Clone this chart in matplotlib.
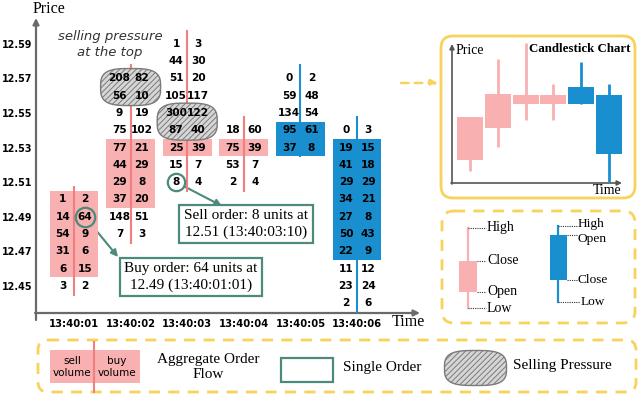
import numpy as np
import matplotlib
matplotlib.use("Agg")
import matplotlib.pyplot as plt
from matplotlib.patches import Rectangle, FancyBboxPatch, Polygon

# ---------------- data ----------------
times = ["13:40:01", "13:40:02", "13:40:03", "13:40:04", "13:40:05", "13:40:06"]
price_ticks = [12.45, 12.47, 12.49, 12.51, 12.53, 12.55, 12.57, 12.59]
top_price = [12.50, 12.57, 12.59, 12.54, 12.57, 12.54]
sell_vol = [
    [1, 14, 54, 31, 6, 3],
    [208, 56, 9, 75, 77, 44, 29, 37, 148, 7],
    [1, 44, 51, 105, 300, 87, 25, 15, 8],
    [18, 75, 53, 2],
    [0, 59, 134, 95, 37],
    [0, 19, 41, 29, 34, 27, 50, 22, 11, 23, 2],
]
buy_vol = [
    [2, 64, 9, 6, 15, 2],
    [82, 10, 19, 102, 21, 29, 8, 20, 51, 3],
    [3, 30, 20, 117, 122, 40, 39, 7, 4],
    [60, 39, 7, 4],
    [2, 48, 54, 61, 8],
    [3, 15, 18, 29, 21, 8, 43, 9, 12, 24, 6],
]
bar_up = [True, True, True, True, False, False]
shade_hi = [12.50, 12.53, 12.53, 12.53, 12.54, 12.53]
shade_lo = [12.46, 12.50, 12.53, 12.53, 12.53, 12.47]
# selling pressure zones
pressure_col = [1, 2]
pressure_hi = [12.57, 12.55]
pressure_lo = [12.56, 12.54]
# single orders
order_col = [0, 2]
order_price = [12.49, 12.51]
order_side = ["buy", "sell"]
order_text = ["Buy order: 64 units at\n12.49 (13:40:01:01)",
              "Sell order: 8 units at\n12.51 (13:40:03:10)"]
# candlestick inset (schematic values)
c_open = [40, 72, 96, 96, 113, 105]
c_high = [83, 141, 157, 116, 138, 116]
c_low = [29, 53, 80, 80, 96, 18]
c_close = [83, 106, 105, 105, 96, 46]

# ---------------- style ----------------
PINK = "#F8B0B1"
RED = "#F27E80"
BLUE = "#1A8FD0"
TEAL = "#4B8A7C"
GOLD = "#F9D25C"
AXC = "#6A6A6A"
SERIF = "Liberation Serif"
plt.rcParams["hatch.linewidth"] = 0.7

W, H = 640, 397
fig = plt.figure(figsize=(6.4, 3.97), dpi=100)

ov = fig.add_axes([0, 0, 1, 1])
ov.set_xlim(0, W)
ov.set_ylim(H, 0)
ov.axis("off")

# main axes placed in pixel frame
L, R, T, B = 36, 418, 22, 313
ax = fig.add_axes([L / W, 1 - B / H, (R - L) / W, (B - T) / H])
ax.patch.set_alpha(0)
x0px, dx = 74.0, 56.6
p0px, dp = 286.0, 1730.0
ax.set_xlim((L - x0px) / dx, (R - x0px) / dx)
ax.set_ylim(12.45 - (B - p0px) / dp, 12.45 + (p0px - T) / dp)
for s in ax.spines.values():
    s.set_visible(False)
ax.set_xticks(range(len(times)))
ax.set_xticklabels(times, fontsize=7.2, fontweight="bold")
ax.set_yticks(price_ticks)
ax.set_yticklabels([f"{p:.2f}" for p in price_ticks], fontsize=6.9, fontweight="bold")
ax.tick_params(length=0, pad=2.5)
ax.tick_params(axis="x", pad=4)

# axis arrows
ov.annotate("", xy=(L, 18), xytext=(L, 320),
            arrowprops=dict(arrowstyle="-|>", color=AXC, lw=1.6, mutation_scale=9, shrinkA=0, shrinkB=0))
ov.annotate("", xy=(R + 2, B), xytext=(L - 1, B),
            arrowprops=dict(arrowstyle="-|>", color=AXC, lw=1.6, mutation_scale=9, shrinkA=0, shrinkB=0))
ov.text(49, 9, "Price", fontsize=11.5, family=SERIF, ha="center", va="center")
ov.text(392, 322, "Time", fontsize=11.5, family=SERIF, ha="left", va="center")

off = 0.195
for i in range(len(times)):
    n = len(sell_vol[i])
    prices = [top_price[i] - 0.01 * j for j in range(n)]
    lc = RED if bar_up[i] else BLUE
    fc = PINK if bar_up[i] else BLUE
    ax.add_patch(Rectangle((i - 0.43, shade_lo[i] - 0.0047), 0.86,
                           shade_hi[i] - shade_lo[i] + 0.0094, fc=fc, ec="none", zorder=1))
    ax.plot([i, i], [prices[0] + 0.0075, prices[-1] - 0.005], color=lc, lw=1.5, zorder=2)
    for j, p in enumerate(prices):
        ax.text(i - off, p, str(sell_vol[i][j]), ha="center", va="center",
                fontsize=7.6, fontweight="bold", zorder=5)
        ax.text(i + off, p, str(buy_vol[i][j]), ha="center", va="center",
                fontsize=7.6, fontweight="bold", zorder=5)


def superellipse(cx, cy, a, b, n=3.2, m=120):
    t = np.linspace(0, 2 * np.pi, m)
    c, s = np.cos(t), np.sin(t)
    xs = cx + a * np.sign(c) * np.abs(c) ** (2 / n)
    ys = cy + b * np.sign(s) * np.abs(s) ** (2 / n)
    return np.column_stack([xs, ys])


for k in range(len(pressure_col)):
    c = pressure_col[k]
    cy = (pressure_hi[k] + pressure_lo[k]) / 2
    ax.add_patch(Polygon(superellipse(c, cy, 0.53, 0.0107), closed=True,
                         fc="#D6D6D6", ec="#7A7A7A", lw=1.0, hatch="//////", zorder=3))

ax.text(0.635, 12.5895, "selling pressure\nat the top", ha="center", va="center",
        fontsize=9.5, style="italic", color="#333333", linespacing=1.3)

# single orders
box_xy = [(191, 277), (246, 224)]
arrow_end = [(118, 257), (222, 206)]
for k in range(len(order_col)):
    xo = order_col[k] + (off if order_side[k] == "buy" else -off)
    ms = 14 if order_side[k] == "buy" else 12.5
    ax.plot(xo, order_price[k], "o", ms=ms, mfc="none", mec=TEAL, mew=1.6, zorder=6)
    ov.annotate("", xy=arrow_end[k], xycoords="data",
                xytext=(xo, order_price[k]), textcoords=ax.transData,
                arrowprops=dict(arrowstyle="-|>", color=TEAL, lw=1.5, mutation_scale=10,
                                shrinkA=ms / 2 + 0.5, shrinkB=0), zorder=6)
    ov.text(box_xy[k][0], box_xy[k][1], order_text[k], ha="center", va="center",
            fontsize=11, family=SERIF, linespacing=1.25, zorder=7,
            bbox=dict(boxstyle="square,pad=0.3", fc="white", ec=TEAL, lw=1.6))

# dashed arrow to inset
ov.annotate("", xy=(438, 83), xytext=(401, 83),
            arrowprops=dict(arrowstyle="-|>", color=GOLD, lw=1.8, ls=(0, (3, 2.5)),
                            mutation_scale=10, shrinkA=0, shrinkB=0))

# candlestick inset
ov.add_patch(FancyBboxPatch((441, 36), 194, 162, boxstyle="round,pad=0,rounding_size=12",
                            fc="white", ec=GOLD, lw=2))
ins = fig.add_axes([440 / W, 1 - 197 / H, 195 / W, 161 / H])
ins.axis("off")
ins.patch.set_alpha(0)
ins.set_xlim(-30 / 27.8, 165 / 27.8)
ins.set_ylim(3, 164)
for i in range(len(c_open)):
    up = c_close[i] >= c_open[i]
    col = PINK if up else BLUE
    ins.plot([i, i], [c_low[i], c_high[i]], color=col, lw=2, solid_capstyle="butt")
    lo, hi = min(c_open[i], c_close[i]), max(c_open[i], c_close[i])
    ins.add_patch(Rectangle((i - 0.465, lo), 0.93, hi - lo, fc=col, ec="none"))
ov.annotate("", xy=(452, 44), xytext=(452, 184),
            arrowprops=dict(arrowstyle="-|>", color="#555555", lw=1.2, mutation_scale=7, shrinkA=0, shrinkB=0))
ov.annotate("", xy=(622, 183), xytext=(451, 183),
            arrowprops=dict(arrowstyle="-|>", color="#555555", lw=1.2, mutation_scale=7, shrinkA=0, shrinkB=0))
ov.text(456, 50, "Price", fontsize=10, family=SERIF, ha="left", va="center")
ov.text(580, 49, "Candlestick Chart", fontsize=9.3, family=SERIF, fontweight="bold",
        ha="center", va="center")
ov.text(607, 191, "Time", fontsize=10, family=SERIF, ha="center", va="center")

# candle anatomy legend
ov.add_patch(FancyBboxPatch((442, 211), 193, 112, boxstyle="round,pad=0,rounding_size=12",
                            fc="none", ec=GOLD, lw=2, ls=(0, (4, 3))))
ov.plot([468, 468], [228, 308], color=PINK, lw=1.6)
ov.add_patch(Rectangle((459, 261), 18, 31, fc=PINK, ec="none"))
ov.plot([558, 558], [226, 302], color=BLUE, lw=1.6)
ov.add_patch(Rectangle((550, 235), 17, 45, fc=BLUE, ec="none"))
anat = [(468, 228, "High"), (477, 261, "Close"), (477, 292, "Open"), (468, 308, "Low")]
for xs, ys, lab in anat:
    ov.plot([xs, 486], [ys, ys], color="#333333", lw=0.8, ls=(0, (1, 1)))
    ov.text(487, ys, lab, fontsize=10, family=SERIF, ha="left", va="center")
anat2 = [(558, 226, "High", -2), (567, 235, "Open", 4), (567, 280, "Close", 0), (558, 302, "Low", 0)]
for xs, ys, lab, dy in anat2:
    xe = 580 if lab == "Low" else 577
    ov.plot([xs, xe], [ys, ys], color="#333333", lw=0.8, ls=(0, (1, 1)))
    ov.text(xe + 1, ys + dy, lab, fontsize=9.6, family=SERIF, ha="left", va="center")

# bottom legend
ov.add_patch(FancyBboxPatch((38, 340), 598, 52, boxstyle="round,pad=0,rounding_size=10",
                            fc="none", ec=GOLD, lw=2, ls=(0, (4, 3))))
ov.add_patch(Rectangle((50, 350), 90, 33, fc=PINK, ec="none"))
ov.plot([94, 94], [342, 392], color=RED, lw=1.5)
ov.text(72, 367, "sell\nvolume", fontsize=7.5, ha="center", va="center", linespacing=1.25)
ov.text(117, 367, "buy\nvolume", fontsize=7.5, ha="center", va="center", linespacing=1.25)
ov.text(208, 367, "Aggregate Order\nFlow", fontsize=11, family=SERIF, ha="center",
        va="center", linespacing=1.1)
ov.add_patch(Rectangle((281, 358), 52, 24, fc="none", ec=TEAL, lw=1.6))
ov.text(343, 368, "Single Order", fontsize=11, family=SERIF, ha="left", va="center")
ov.add_patch(Polygon(superellipse(475.5, 368, 31, 17.5), closed=True, fc="#D6D6D6",
                     ec="#7A7A7A", lw=1.0, hatch="//////"))
ov.text(513, 366, "Selling Pressure", fontsize=11, family=SERIF, ha="left", va="center")

fig.savefig("out.png", dpi=100)
